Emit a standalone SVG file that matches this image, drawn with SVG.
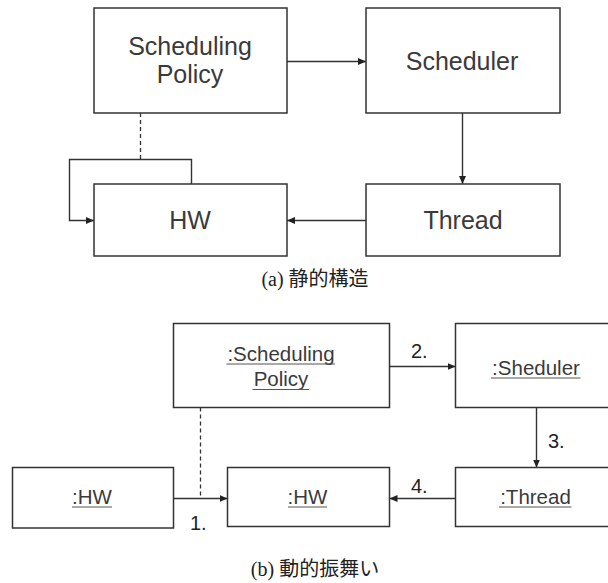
<svg xmlns="http://www.w3.org/2000/svg" width="608" height="583" viewBox="0 0 608 583">
<defs>
<marker id="ah" viewBox="0 0 8 8" refX="8" refY="4" markerWidth="8" markerHeight="8" markerUnits="userSpaceOnUse" orient="auto">
<path d="M0,0.5 L8,4 L0,7.5 Z" fill="#222"/>
</marker>
<style>
.box{fill:#fff;stroke:#333;stroke-width:1.5}
.ln{fill:none;stroke:#333;stroke-width:1.4}
.dash{fill:none;stroke:#333;stroke-width:1.3;stroke-dasharray:4 3}
.t1{font-family:"Liberation Sans",Arial,sans-serif;font-size:25px;fill:#3a3a3a;text-anchor:middle}
.t2{font-family:"Liberation Sans",Arial,sans-serif;font-size:20.5px;fill:#3a3a3a;text-anchor:middle}
.lab{font-family:"Liberation Sans",Arial,sans-serif;font-size:20px;fill:#222}
.ul{stroke:#555;stroke-width:1.2}
.cap{font-family:"Liberation Serif","Noto Sans CJK JP",serif;font-size:20px;fill:#222;text-anchor:middle}
</style>
</defs>
<rect width="608" height="583" fill="#fff"/>

<!-- (a) static structure -->
<g id="connectors-a">
<line class="ln" x1="287" y1="61.5" x2="366" y2="61.5" marker-end="url(#ah)"/>
<line class="ln" x1="462.5" y1="113" x2="462.5" y2="184" marker-end="url(#ah)"/>
<line class="ln" x1="366" y1="220.5" x2="287" y2="220.5" marker-end="url(#ah)"/>
<polyline class="ln" points="191.5,184 191.5,159.5 69.5,159.5 69.5,220.5 94,220.5" marker-end="url(#ah)"/>
<line class="dash" x1="140.5" y1="113" x2="140.5" y2="159.5"/>
</g>
<g id="a-policy">
<rect class="box" x="94" y="8" width="193" height="105"/>
<text class="t1" x="190" y="55">Scheduling</text>
<text class="t1" x="190" y="83">Policy</text>
</g>
<g id="a-scheduler">
<rect class="box" x="366" y="8" width="194" height="105"/>
<text class="t1" x="462" y="70">Scheduler</text>
</g>
<g id="a-hw">
<rect class="box" x="94" y="184" width="193" height="72"/>
<text class="t1" x="190" y="228.5">HW</text>
</g>
<g id="a-thread">
<rect class="box" x="366" y="184" width="194" height="72"/>
<text class="t1" x="463" y="228.5">Thread</text>
</g>
<text class="cap" x="315" y="286">(a) 静的構造</text>

<!-- (b) dynamic behaviour -->
<g id="connectors-b">
<line class="ln" x1="389.5" y1="366.5" x2="455.5" y2="366.5" marker-end="url(#ah)"/>
<line class="ln" x1="536.5" y1="407.5" x2="536.5" y2="467.5" marker-end="url(#ah)"/>
<line class="ln" x1="173.5" y1="498.5" x2="227.5" y2="498.5" marker-end="url(#ah)"/>
<line class="ln" x1="455.5" y1="498.5" x2="389.5" y2="498.5" marker-end="url(#ah)"/>
<line class="dash" x1="200.5" y1="407.5" x2="200.5" y2="498.5"/>
<text class="lab" x="411" y="358">2.</text>
<text class="lab" x="548" y="447.5">3.</text>
<text class="lab" x="190" y="529.5">1.</text>
<text class="lab" x="411" y="492.5">4.</text>
</g>
<g id="b-policy">
<rect class="box" x="173.5" y="323.5" width="216" height="84"/>
<text class="t2" x="281" y="360.5">:Scheduling</text>
<line class="ul" x1="226.5" y1="364" x2="335" y2="364"/>
<text class="t2" x="281" y="386">Policy</text>
<line class="ul" x1="252.5" y1="389.5" x2="309" y2="389.5"/>
</g>
<g id="b-scheduler">
<rect class="box" x="455.5" y="323.5" width="160" height="84"/>
<text class="t2" x="536" y="374.5">:Sheduler</text>
<line class="ul" x1="491" y1="378" x2="580.5" y2="378"/>
</g>
<g id="b-hw-left">
<rect class="box" x="12.5" y="467.5" width="161" height="60.5"/>
<text class="t2" x="92" y="503.5">:HW</text>
<line class="ul" x1="72" y1="507" x2="112" y2="507"/>
</g>
<g id="b-hw">
<rect class="box" x="227.5" y="467.5" width="162" height="59"/>
<text class="t2" x="307.5" y="503.5">:HW</text>
<line class="ul" x1="288" y1="507" x2="327" y2="507"/>
</g>
<g id="b-thread">
<rect class="box" x="455.5" y="467.5" width="160" height="59"/>
<text class="t2" x="535.5" y="503.5">:Thread</text>
<line class="ul" x1="499" y1="507" x2="571.5" y2="507"/>
</g>
<text class="cap" x="315" y="576">(b) 動的振舞い</text>
</svg>
